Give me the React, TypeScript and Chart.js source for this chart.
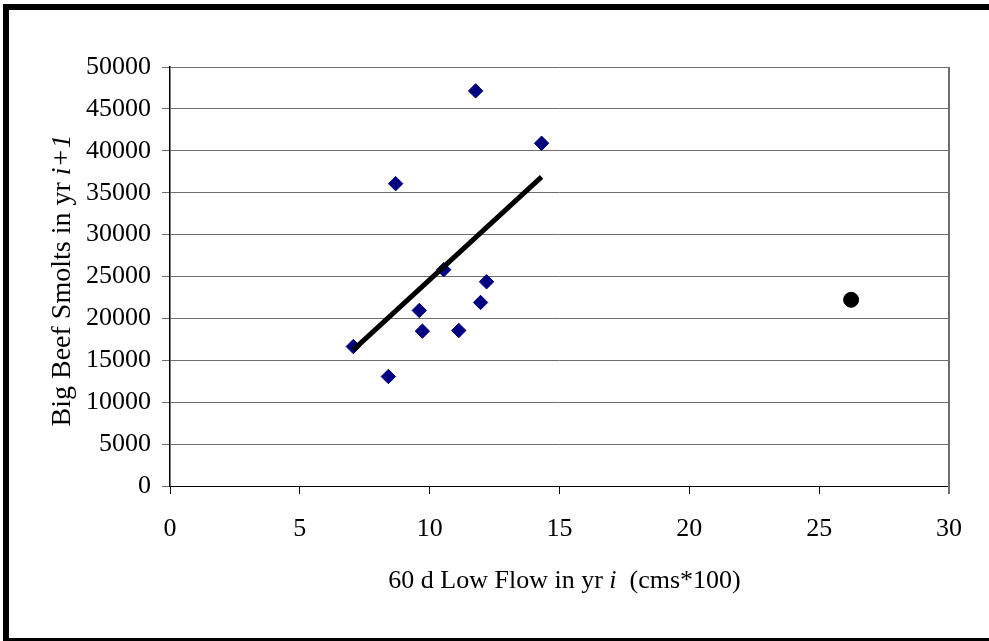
import React, { useEffect, useRef } from "react";
import { Chart, registerables } from "chart.js";

Chart.register(...registerables);

// Spring low flow (cms*100) in year i and Big Beef smolt count in year i+1
const flowValues = [7.06, 8.41, 8.69, 9.6, 9.72, 10.54, 11.12, 11.77, 11.96, 12.19, 14.31];
const smoltValues = [16640, 13060, 36080, 20950, 18480, 25810, 18560, 47150, 21900, 24370, 40900];

// Outlying year shown separately
const outlierFlow = [26.23];
const outlierSmolts = [22220];

// Fitted trend endpoints
const trendFlow = [7.06, 14.31];
const trendSmolts = [16250, 36880];

const xTicks = [0, 5, 10, 15, 20, 25, 30];
const yTicks = [0, 5000, 10000, 15000, 20000, 25000, 30000, 35000, 40000, 45000, 50000];

const SERIF = '"Liberation Serif", "Times New Roman", serif';
const GRID = "#6e6e6e";

type Part = { text: string; italic?: boolean };

const xTitle: Part[] = [
  { text: "60 d Low Flow in yr " },
  { text: "i", italic: true },
  { text: "  (cms*100)" },
];
const yTitle: Part[] = [
  { text: "Big Beef Smolts in yr " },
  { text: "i+1", italic: true },
];

function drawParts(ctx: CanvasRenderingContext2D, parts: Part[], size: number) {
  const fontOf = (p: Part) => `${p.italic ? "italic " : ""}${size}px ${SERIF}`;
  let total = 0;
  for (const p of parts) {
    ctx.font = fontOf(p);
    total += ctx.measureText(p.text).width;
  }
  let x = -total / 2;
  ctx.textBaseline = "middle";
  ctx.textAlign = "left";
  for (const p of parts) {
    ctx.font = fontOf(p);
    ctx.fillText(p.text, x, 0);
    x += ctx.measureText(p.text).width;
  }
}

const decorPlugin = {
  id: "decor",
  afterDraw(chart: Chart) {
    const ctx = chart.ctx;
    const area = chart.chartArea;
    ctx.save();
    ctx.fillStyle = "#000";
    // axis titles with italic variable names
    ctx.save();
    ctx.translate((area.left + area.right) / 2 + 5, 581);
    drawParts(ctx, xTitle, 26);
    ctx.restore();
    ctx.save();
    ctx.translate(63, (area.top + area.bottom) / 2 + 4);
    ctx.rotate(-Math.PI / 2);
    drawParts(ctx, yTitle, 28);
    ctx.restore();
    // right edge of plot area
    ctx.strokeStyle = GRID;
    ctx.lineWidth = 2;
    ctx.beginPath();
    ctx.moveTo(area.right, area.top);
    ctx.lineTo(area.right, area.bottom + 8);
    ctx.stroke();
    // outer frame
    ctx.fillStyle = "#000";
    ctx.fillRect(3, 4, 986, 6);
    ctx.fillRect(3, 4, 6, 637);
    ctx.fillRect(3, 638, 986, 3);
    ctx.restore();
  },
};

export default function App() {
  const canvasRef = useRef<HTMLCanvasElement | null>(null);

  useEffect(() => {
    document.body.style.margin = "0";
    const canvas = canvasRef.current;
    if (!canvas) return;

    const chart = new Chart(canvas, {
      type: "scatter",
      data: {
        datasets: [
          {
            type: "line",
            label: "Trend",
            data: trendFlow.map((x, i) => ({ x, y: trendSmolts[i] })),
            borderColor: "#000",
            borderWidth: 5,
            pointRadius: 0,
            fill: false,
            order: 0,
          },
          {
            label: "Smolts",
            data: flowValues.map((x, i) => ({ x, y: smoltValues[i] })),
            pointStyle: "rectRot",
            pointRadius: 7.2,
            pointBackgroundColor: "#000080",
            pointBorderColor: "#000080",
            pointBorderWidth: 1,
            order: 1,
          },
          {
            label: "Outlier",
            data: outlierFlow.map((x, i) => ({ x, y: outlierSmolts[i] })),
            pointStyle: "circle",
            pointRadius: 7.5,
            pointBackgroundColor: "#000",
            pointBorderColor: "#000",
            pointBorderWidth: 1,
            order: 1,
          },
        ],
      },
      options: {
        responsive: false,
        animation: false,
        layout: { padding: { left: 0, right: 40, top: 67, bottom: 0 } },
        plugins: {
          legend: { display: false },
          tooltip: { enabled: false },
        },
        scales: {
          x: {
            type: "linear",
            min: xTicks[0],
            max: xTicks[xTicks.length - 1],
            afterFit: (scale: any) => {
              scale.height = 155;
            },
            afterBuildTicks: (scale: any) => {
              scale.ticks = xTicks.map((v) => ({ value: v }));
            },
            ticks: {
              color: "#000",
              font: { family: SERIF, size: 26 },
              padding: 20,
              callback: (v: any) => String(v),
            },
            grid: {
              drawOnChartArea: false,
              tickLength: 8,
              tickColor: "#000",
              lineWidth: 1,
            },
            border: { display: false },
          },
          y: {
            type: "linear",
            min: yTicks[0],
            max: yTicks[yTicks.length - 1],
            afterFit: (scale: any) => {
              scale.width = 170;
            },
            afterBuildTicks: (scale: any) => {
              scale.ticks = yTicks.map((v) => ({ value: v }));
            },
            ticks: {
              color: "#000",
              font: { family: SERIF, size: 26 },
              padding: 11,
              callback: (v: any) => String(v),
            },
            grid: {
              color: (c: any) => (c.tick && c.tick.value === 0 ? "#000" : GRID),
              tickColor: GRID,
              tickLength: 8,
              lineWidth: 1,
            },
            border: { display: true, color: "#000", width: 1.5 },
          },
        },
      },
      plugins: [decorPlugin],
    });

    return () => chart.destroy();
  }, []);

  return (
    <div style={{ width: 989, height: 641, background: "#fff" }}>
      <canvas ref={canvasRef} width={989} height={641} style={{ display: "block" }} />
    </div>
  );
}
